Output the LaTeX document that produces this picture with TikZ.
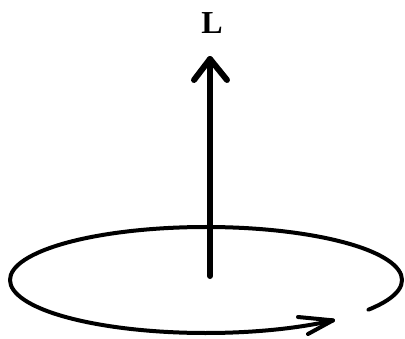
\documentclass[tikz,border=0pt]{standalone}
\usepackage{fontspec}
\setmainfont{Liberation Serif}
\begin{document}
\begin{tikzpicture}[x=1pt,y=-1pt,
  orbit/.style={line width=4pt,line cap=round,line join=round},
  shaft/.style={line width=6pt,line cap=round,line join=round}]
\useasboundingbox (0,0) rectangle (405,338);
% angular momentum vector
\coordinate (base) at (210,276);
\coordinate (tip) at (210,59);
\coordinate (bl) at (194,80);
\coordinate (br) at (227,80);
\draw[shaft] (base) -- (tip);
\draw[shaft] (bl) -- (tip) -- (br);
\node[font=\fontsize{32}{34}\selectfont\bfseries,inner sep=0pt,anchor=base] (L) at (212,33) {L};
% orbit
\coordinate (start) at ({206+196*cos(34)},{280+53*sin(34)});
\draw[orbit] (start) arc[start angle=34,end angle=-310.4,x radius=196,y radius=53] coordinate (otip);
\coordinate (ub) at (298,317);
\coordinate (lb) at (308,334);
\draw[orbit] (ub) -- (otip) -- (lb);
\end{tikzpicture}
\end{document}
